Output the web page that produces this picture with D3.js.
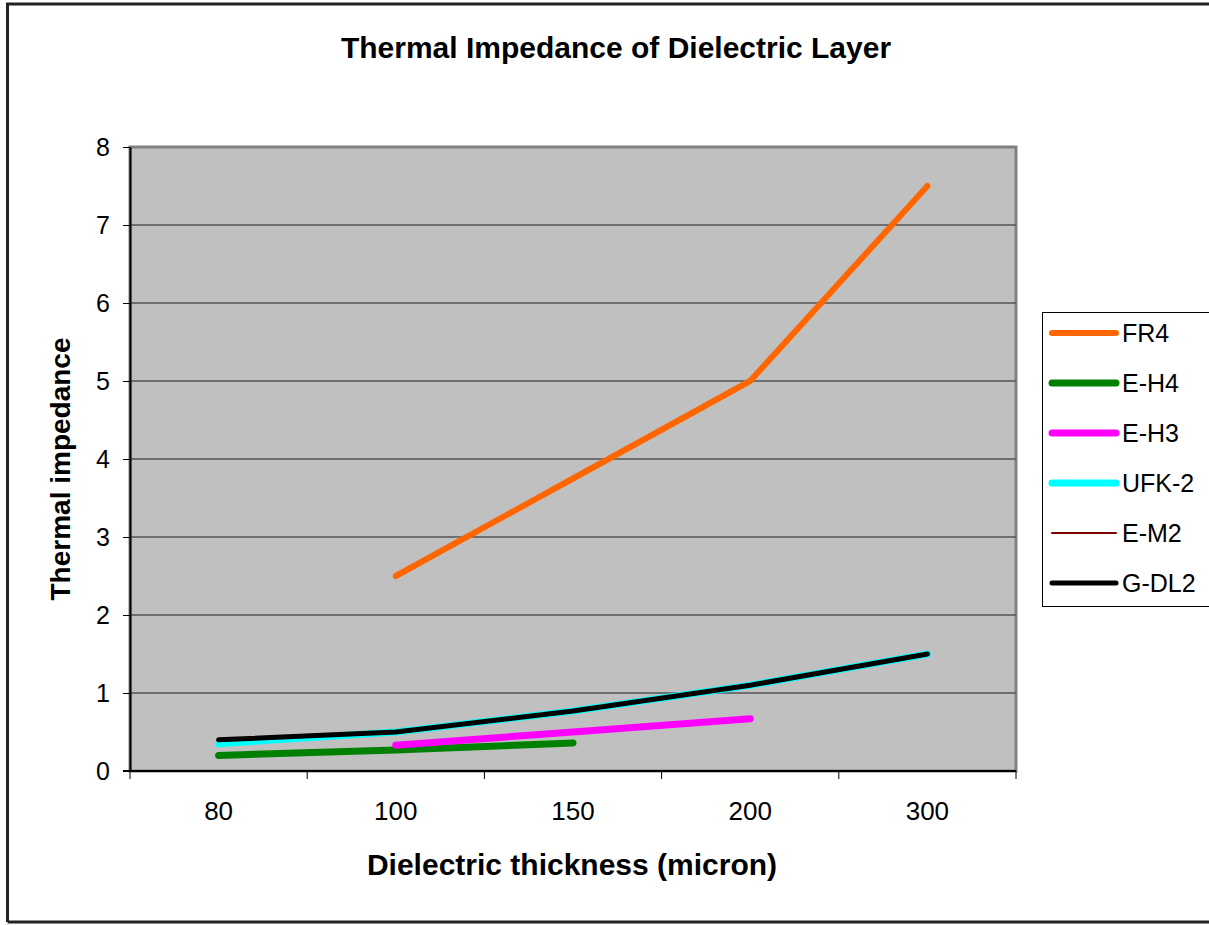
<!DOCTYPE html>
<html>
<head>
<meta charset="utf-8">
<script src="https://cdn.jsdelivr.net/npm/d3@7"></script>
<style>
  body { margin: 0; background: #fff; }
  text { font-family: "Liberation Sans", Arial, sans-serif; }
</style>
</head>
<body>
<script>
// chart values
const categories = ["80", "100", "150", "200", "300"];
const seriesNames = ["FR4", "E-H4", "E-H3", "UFK-2", "E-M2", "G-DL2"];
const fr4   = [null, 2.5, 3.75, 5.0, 7.5];
const eh4   = [0.2, 0.27, 0.36, null, null];
const eh3   = [null, 0.33, 0.5, 0.67, null];
const ufk2  = [0.35, 0.5, 0.77, 1.1, 1.5];
const em2   = [0.4, 0.5, 0.77, 1.1, 1.5];
const gdl2  = [0.4, 0.5, 0.77, 1.1, 1.5];
const yTicks = [0, 1, 2, 3, 4, 5, 6, 7, 8];

const series = [
  { name: "FR4",   values: fr4,  color: "#ff6600", width: 6 },
  { name: "E-H4",  values: eh4,  color: "#008000", width: 7 },
  { name: "E-H3",  values: eh3,  color: "#ff00ff", width: 7 },
  { name: "UFK-2", values: ufk2, color: "#00ffff", width: 7 },
  { name: "E-M2",  values: em2,  color: "#800000", width: 2 },
  { name: "G-DL2", values: gdl2, color: "#000000", width: 5 }
];

const W = 1209, H = 925;
const plot = { left: 130, right: 1016, top: 147, bottom: 771 };

const svg = d3.select("body").append("svg")
  .attr("width", W)
  .attr("height", H);

svg.append("rect").attr("width", W).attr("height", H).attr("fill", "#fff");

// outer chart border
svg.append("path")
  .attr("d", "M7.5,922 L7.5,4 L1209,4 M7.5,922 L1209,922")
  .attr("fill", "none")
  .attr("stroke", "#222")
  .attr("stroke-width", 3);

const x = d3.scaleBand().domain(categories).range([plot.left, plot.right]);
const y = d3.scaleLinear().domain([0, 8]).range([plot.bottom, plot.top]);

// plot area
svg.append("rect")
  .attr("x", plot.left).attr("y", plot.top)
  .attr("width", plot.right - plot.left).attr("height", plot.bottom - plot.top)
  .attr("fill", "#c0c0c0")
  .attr("stroke", "#808080")
  .attr("stroke-width", 3);

// gridlines
svg.append("g")
  .selectAll("line")
  .data(yTicks.filter(d => d > 0 && d < 8))
  .enter()
  .append("line")
    .attr("x1", plot.left).attr("x2", plot.right)
    .attr("y1", d => y(d)).attr("y2", d => y(d))
    .attr("stroke", "#555")
    .attr("stroke-width", 1.5);

// y axis
const yAxis = svg.append("g")
  .attr("transform", "translate(" + plot.left + ",0)")
  .call(d3.axisLeft(y).tickValues(yTicks).tickSize(7).tickPadding(13).tickSizeOuter(0));
yAxis.select(".domain").attr("stroke", "#000").attr("stroke-width", 2);
yAxis.selectAll(".tick line").attr("stroke", "#000");
yAxis.selectAll(".tick text")
  .attr("font-size", "25px")
  .attr("font-family", "Liberation Sans, Arial, sans-serif")
  .attr("fill", "#000");

// x axis: ticks at band edges, labels at band centres
svg.append("line")
  .attr("x1", plot.left - 7).attr("x2", plot.right)
  .attr("y1", plot.bottom).attr("y2", plot.bottom)
  .attr("stroke", "#000").attr("stroke-width", 2);

const edges = categories.map(c => x(c)).concat([plot.right]);
svg.append("g")
  .selectAll("line")
  .data(edges)
  .enter()
  .append("line")
    .attr("x1", d => d).attr("x2", d => d)
    .attr("y1", plot.bottom).attr("y2", plot.bottom + 8)
    .attr("stroke", "#000").attr("stroke-width", 1);

svg.append("g")
  .selectAll("text")
  .data(categories)
  .enter()
  .append("text")
    .attr("x", d => x(d) + x.bandwidth() / 2)
    .attr("y", 820)
    .attr("text-anchor", "middle")
    .attr("font-size", "26px")
    .attr("fill", "#000")
    .text(d => d);

// lines
const line = d3.line()
  .defined(d => d.v != null)
  .x(d => x(d.c) + x.bandwidth() / 2)
  .y(d => y(d.v));

svg.append("g")
  .selectAll("path")
  .data(series)
  .enter()
  .append("path")
    .attr("d", s => line(s.values.map((v, i) => ({ c: categories[i], v: v }))))
    .attr("fill", "none")
    .attr("stroke", s => s.color)
    .attr("stroke-width", s => s.width)
    .attr("stroke-linecap", "round")
    .attr("stroke-linejoin", "round");

// title
svg.append("text")
  .attr("x", 616).attr("y", 58)
  .attr("text-anchor", "middle")
  .attr("font-size", "30px")
  .attr("font-weight", "bold")
  .attr("fill", "#000")
  .text("Thermal Impedance of Dielectric Layer");

svg.append("text")
  .attr("x", 572).attr("y", 875)
  .attr("text-anchor", "middle")
  .attr("font-size", "30px")
  .attr("font-weight", "bold")
  .attr("fill", "#000")
  .text("Dielectric thickness (micron)");

svg.append("text")
  .attr("transform", "translate(70," + ((plot.top + plot.bottom) / 2 + 10) + ") rotate(-90)")
  .attr("text-anchor", "middle")
  .attr("font-size", "28px")
  .attr("font-weight", "bold")
  .attr("fill", "#000")
  .text("Thermal impedance");

// legend
const legend = svg.append("g");
legend.append("rect")
  .attr("x", 1042.5).attr("y", 312.5)
  .attr("width", 180).attr("height", 294)
  .attr("fill", "#fff")
  .attr("stroke", "#000")
  .attr("stroke-width", 1);

const items = legend.selectAll("g.item")
  .data(series)
  .enter()
  .append("g")
    .attr("class", "item")
    .attr("transform", (d, i) => "translate(0," + (333 + i * 50) + ")");

items.append("line")
  .attr("x1", 1052).attr("x2", 1116)
  .attr("y1", 0).attr("y2", 0)
  .attr("stroke", d => d.color)
  .attr("stroke-width", d => d.width)
  .attr("stroke-linecap", "round");

items.append("text")
  .attr("x", 1122).attr("y", 9)
  .attr("font-size", "25px")
  .attr("fill", "#000")
  .text(d => d.name);
</script>
</body>
</html>
